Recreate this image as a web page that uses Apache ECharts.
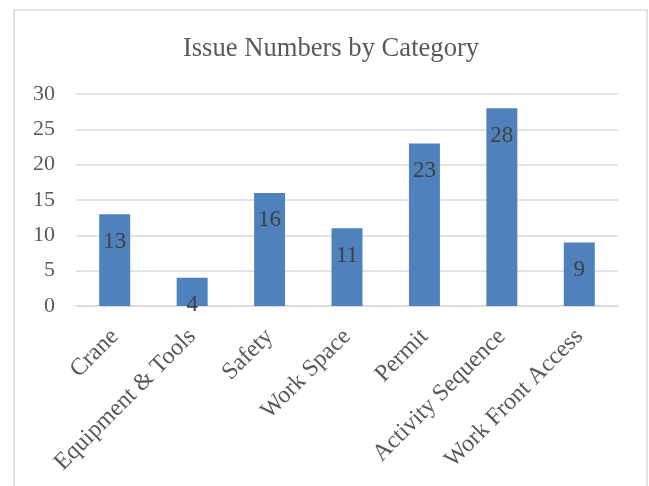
<!DOCTYPE html>
<html>
<head>
<meta charset="utf-8">
<script src="https://cdn.jsdelivr.net/npm/echarts@6/dist/echarts.min.js"></script>
<style>
  html, body { margin: 0; padding: 0; background: #fff; }
  #chart { width: 649px; height: 486px; }
</style>
</head>
<body>
<div id="chart"></div>
<script>
// chart data
const categories = ['Crane', 'Equipment & Tools', 'Safety', 'Work Space', 'Permit', 'Activity Sequence', 'Work Front Access']
const issueCounts = [13, 4, 16, 11, 23, 28, 9]
const yTicks = [0, 5, 10, 15, 20, 25, 30]

const serif = '"Liberation Serif", "Times New Roman", serif'

const chart = echarts.init(document.getElementById('chart'))

chart.setOption({
  animation: false,
  title: {
    text: 'Issue Numbers by Category',
    left: 326,
    textAlign: 'center',
    top: 31,
    textStyle: {
      fontFamily: serif,
      fontSize: 26.6,
      fontWeight: 'normal',
      color: '#595959',
    },
  },
  // outer chart-area border
  graphic: [{
    type: 'rect',
    shape: { x: 14, y: 10, width: 633, height: 500 },
    style: { fill: 'none', stroke: '#d9d9d9', lineWidth: 1.5 },
    silent: true,
  }],
  grid: {
    left: 76,
    right: 31,
    top: 94,
    height: 212,
  },
  xAxis: {
    type: 'category',
    data: categories,
    axisLine: { lineStyle: { color: '#d9d9d9', width: 1.5 } },
    axisTick: { show: false },
    axisLabel: {
      rotate: 45,
      interval: 0,
      margin: 27,
      fontFamily: serif,
      fontSize: 24,
      color: '#595959',
    },
  },
  yAxis: {
    type: 'value',
    min: yTicks[0],
    max: yTicks[yTicks.length - 1],
    interval: 5,
    axisLine: { show: false },
    axisTick: { show: false },
    axisLabel: {
      margin: 21,
      fontFamily: serif,
      fontSize: 22,
      color: '#595959',
    },
    splitLine: { lineStyle: { color: '#d9d9d9', width: 1.5 } },
  },
  series: [{
    name: 'Issues',
    type: 'bar',
    data: issueCounts,
    barWidth: '40%',
    itemStyle: { color: '#4f81bd' },
    label: {
      show: true,
      position: 'insideTop',
      distance: 16,
      fontFamily: serif,
      fontSize: 23,
      color: '#404040',
    },
  }],
})
</script>
</body>
</html>
